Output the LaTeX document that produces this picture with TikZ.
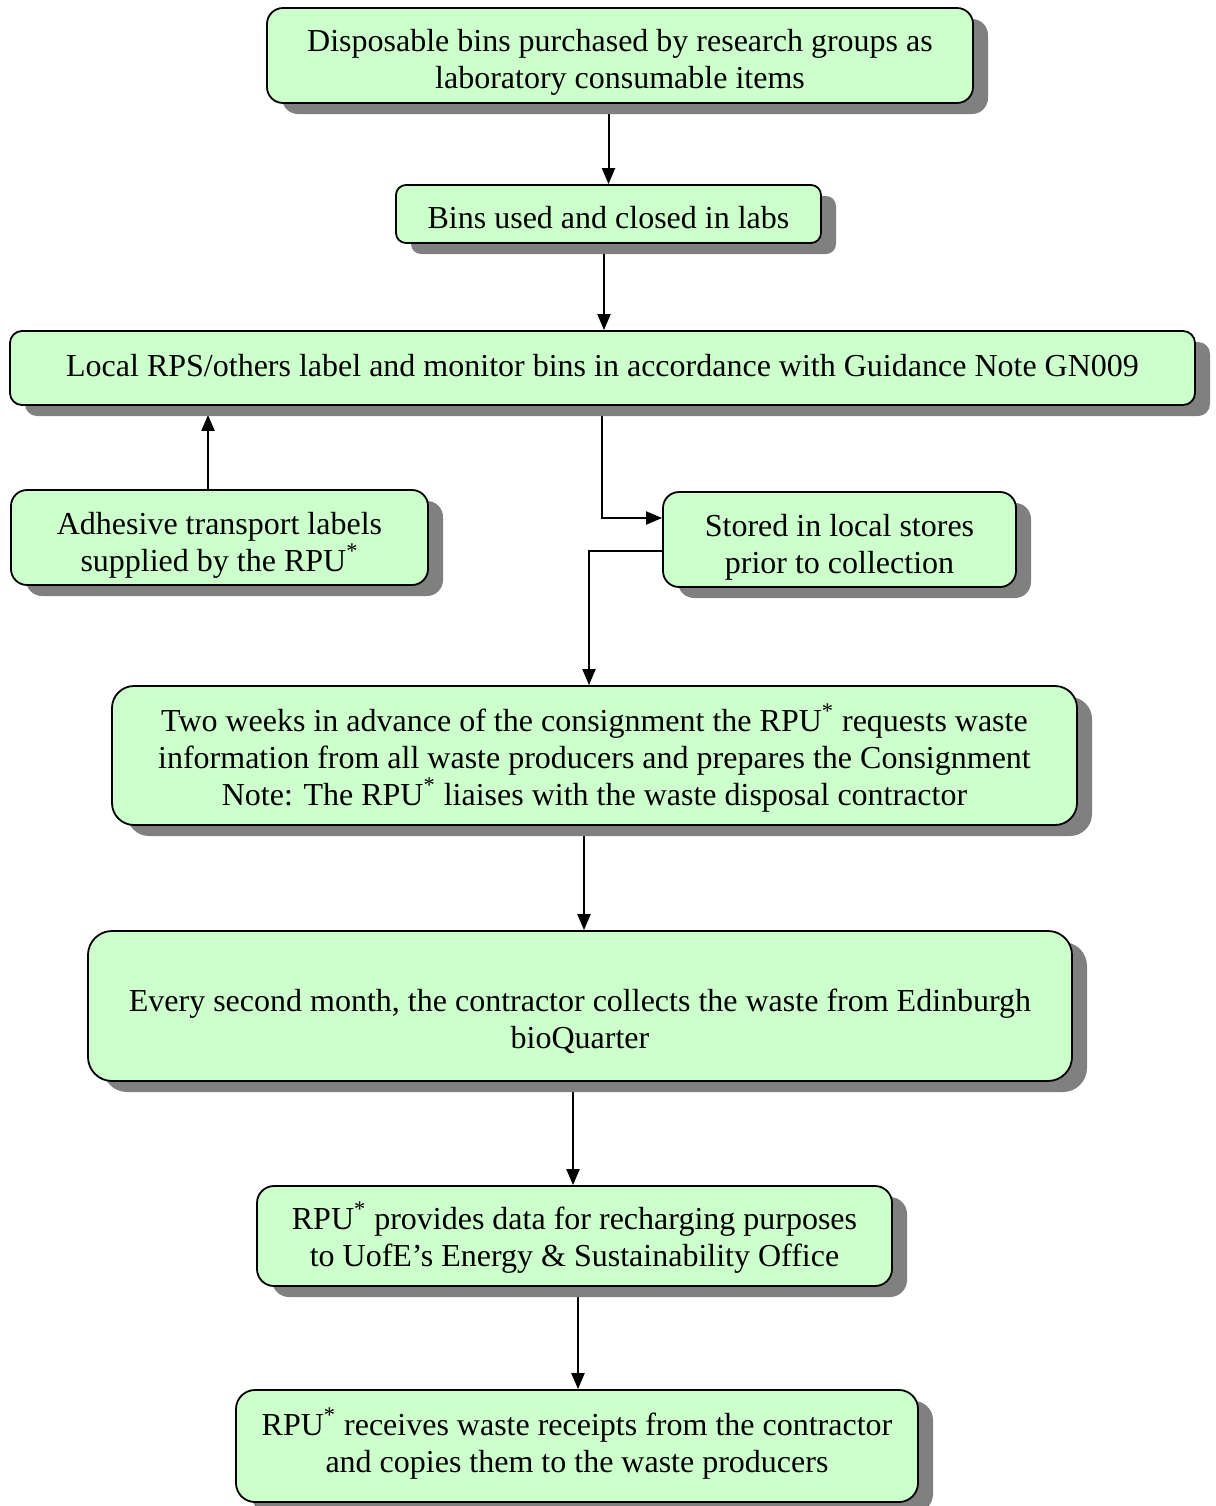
\documentclass[tikz,border=0pt]{standalone}
\usepackage{fontspec}
\setmainfont{Liberation Serif}
\usetikzlibrary{shadows,arrows.meta,backgrounds,calc}
\definecolor{boxfill}{HTML}{CCFFCC}
\definecolor{shadowgray}{HTML}{808080}
\tikzset{
  flowbox/.style={draw=black, line width=0.9pt, fill=boxfill, inner sep=0pt,
    drop shadow={shadow xshift=7.5pt, shadow yshift=-5.5pt, fill=shadowgray, opacity=1}},
  boxtext/.style={align=center, font=\fontsize{16pt}{18.6pt}\selectfont, inner sep=0pt},
  conn/.style={line width=1pt, -{Triangle[length=8pt,width=6.5pt]}},
}
\begin{document}
\begin{tikzpicture}[x=0.5pt,y=-0.5pt]
\useasboundingbox (0,0) rectangle (1216,1506);

% boxes
\node[flowbox, minimum width=353pt, minimum height=47.5pt, rounded corners=8pt] (A) at (620,55.5) {};
\node[flowbox, minimum width=212.5pt, minimum height=29pt, rounded corners=5pt] (B) at (608.5,214) {};
\node[flowbox, minimum width=592.5pt, minimum height=37pt, rounded corners=6pt] (C) at (602.5,368) {};
\node[flowbox, minimum width=208.5pt, minimum height=47.5pt, rounded corners=8pt] (D) at (219.5,537.5) {};
\node[flowbox, minimum width=176.5pt, minimum height=47.5pt, rounded corners=8pt] (E) at (839.5,539.5) {};
\node[flowbox, minimum width=482.5pt, minimum height=69.5pt, rounded corners=11pt] (F) at (594.5,755.5) {};
\node[flowbox, minimum width=492pt, minimum height=75pt, rounded corners=12pt] (G) at (580,1006) {};
\node[flowbox, minimum width=317.5pt, minimum height=50pt, rounded corners=8.5pt] (H) at (574.5,1236) {};
\node[flowbox, minimum width=341pt, minimum height=56pt, rounded corners=9.5pt] (I) at (577,1446) {};

% texts
\node[boxtext] (At) at (620,62.5) {Disposable bins purchased by research groups as\\laboratory consumable items};
\node[boxtext] (Bt) at (608.5,218) {Bins used and closed in labs};
\node[boxtext] (Ct) at (602.5,366) {Local RPS/others label and monitor bins in accordance with Guidance Note GN009};
\node[boxtext] (Dt) at (219.5,545) {Adhesive transport labels\\supplied by the RPU\textsuperscript{*}};
\node[boxtext] (Et) at (839.5,547.5) {Stored in local stores\\prior to collection};
\node[boxtext] (Ft) at (594.5,758) {Two weeks in advance of the consignment the RPU\textsuperscript{*} requests waste\\information from all waste producers and prepares the Consignment\\Note: The RPU\textsuperscript{*} liaises with the waste disposal contractor};
\node[boxtext] (Gt) at (580,1021) {Every second month, the contractor collects the waste from Edinburgh\\bioQuarter};
\node[boxtext] (Ht) at (574.5,1237.5) {RPU\textsuperscript{*} provides data for recharging purposes\\to UofE’s Energy \& Sustainability Office};
\node[boxtext] (It) at (577,1443.5) {RPU\textsuperscript{*} receives waste receipts from the contractor\\and copies them to the waste producers};

% connectors
\begin{scope}[on background layer]
\draw[conn] (A.south -| B) -- (B.north);
\draw[conn] ($(B.south)+(-4.5,0)$) -- ($(B.south |- C.north)+(-4.5,0)$);
\draw[conn] ($(D.north)+(-11.5,0)$) -- ($(D.north |- C.south)+(-11.5,9)$);
\draw[conn] ($(C.south)+(-1,0)$) |- ($(E.west)+(0,-21.5)$);
\draw[conn] ($(E.west)+(0,11.5)$) -| ($(F.north)+(-5.5,0)$);
\draw[conn] ($(F.south)+(-10.5,0)$) -- ($(F.south |- G.north)+(-10.5,0)$);
\draw[conn] ($(G.south)+(-7,0)$) -- ($(G.south |- H.north)+(-7,0)$);
\draw[conn] ($(H.south)+(3.5,0)$) -- ($(H.south |- I.north)+(3.5,0)$);
\end{scope}
\end{tikzpicture}
\end{document}
